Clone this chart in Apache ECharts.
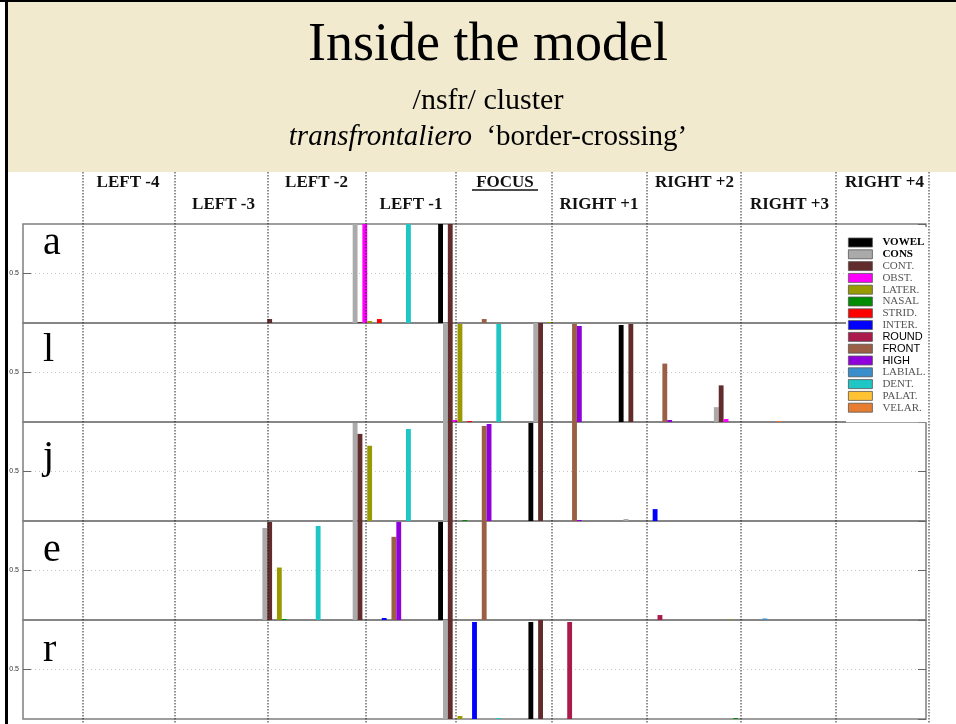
<!DOCTYPE html>
<html lang="en">
<head>
<meta charset="UTF-8">
<title>Inside the model</title>
<script src="https://cdn.jsdelivr.net/npm/echarts@6/dist/echarts.min.js"></script>
<style>
  html, body { margin: 0; padding: 0; background: #fff; }
  #chart { width: 956px; height: 724px; }
</style>
</head>
<body>
<div id="chart"></div>
<script>
// context positions on the x axis
var positions = ['LEFT -4', 'LEFT -3', 'LEFT -2', 'LEFT -1', 'FOCUS', 'RIGHT +1', 'RIGHT +2', 'RIGHT +3', 'RIGHT +4'];
var features = ['VOWEL', 'CONS', 'CONT.', 'OBST.', 'LATER.', 'NASAL', 'STRID.', 'INTER.', 'ROUND', 'FRONT', 'HIGH', 'LABIAL.', 'DENT.', 'PALAT.', 'VELAR.'];
var featureColors = ['#000000', '#aaaaaa', '#622c2c', '#ff00ff', '#999900', '#008c00', '#ff0000', '#0000ff',
                     '#aa1a4c', '#9a5f44', '#9000dc', '#3a8ecc', '#1ec6c6', '#ffc232', '#e67d30'];
var panelLetters = ['a', 'l', 'j', 'e', 'r'];

// one row per feature (same order as features), one column per position
var panelA = [
  [0, 0, 0, 0, 1.00, 0, 0, 0, 0],
  [0, 0, 0, 1.00, 0, 0, 0, 0, 0],
  [0, 0, 0.04, 0.01, 1.00, 0, 0, 0, 0],
  [0, 0, 0, 1.00, 0, 0, 0, 0, 0],
  [0, 0, 0, 0.02, 0, 0.01, 0, 0, 0],
  [0, 0, 0, 0, 0, 0, 0, 0, 0],
  [0, 0, 0, 0.04, 0, 0, 0, 0, 0],
  [0, 0, 0, 0, 0, 0, 0, 0, 0],
  [0, 0, 0, 0, 0, 0, 0, 0, 0],
  [0, 0, 0, 0, 0.04, 0, 0, 0, 0],
  [0, 0, 0, 0, 0, 0, 0, 0, 0],
  [0, 0, 0, 0, 0, 0, 0, 0, 0],
  [0, 0, 0, 1.00, 0, 0, 0, 0, 0],
  [0, 0, 0, 0, 0, 0, 0, 0, 0],
  [0, 0, 0, 0, 0, 0, 0, 0, 0]
];
var panelL = [
  [0, 0, 0, 0, 0, 0, 0.98, 0, 0],
  [0, 0, 0, 0, 1.00, 1.00, 0, 0.15, 0],
  [0, 0, 0, 0, 1.00, 1.00, 0.99, 0.37, 0],
  [0, 0, 0, 0, 0.02, 0, 0, 0.03, 0],
  [0, 0, 0, 0, 0.99, 0, 0, 0, 0],
  [0, 0, 0, 0, 0, 0, 0, 0, 0],
  [0, 0, 0, 0, 0.01, 0, 0, 0, 0],
  [0, 0, 0, 0, 0, 0, 0, 0, 0],
  [0, 0, 0, 0, 0, 0, 0, 0, 0],
  [0, 0, 0, 0, 0, 0.99, 0.59, 0, 0],
  [0, 0, 0, 0, 0, 0.97, 0.02, 0, 0],
  [0, 0, 0, 0, 0, 0, 0, 0, 0],
  [0, 0, 0, 0, 0.99, 0, 0, 0, 0],
  [0, 0, 0, 0, 0, 0, 0, 0, 0],
  [0, 0, 0, 0, 0, 0, 0, 0.01, 0]
];
var panelJ = [
  [0, 0, 0, 0, 0, 0.99, 0, 0, 0],
  [0, 0, 0, 0.99, 1.00, 0, 0.02, 0, 0],
  [0, 0, 0, 0.88, 1.00, 1.00, 0, 0, 0],
  [0, 0, 0, 0, 0, 0, 0, 0, 0],
  [0, 0, 0, 0.76, 0, 0, 0, 0, 0],
  [0, 0, 0, 0, 0.01, 0, 0, 0, 0],
  [0, 0, 0, 0, 0, 0, 0, 0, 0],
  [0, 0, 0, 0, 0, 0, 0.12, 0, 0],
  [0, 0, 0, 0, 0, 0, 0, 0, 0],
  [0, 0, 0, 0, 0.96, 1.00, 0, 0, 0],
  [0, 0, 0, 0, 0.98, 0.01, 0, 0, 0],
  [0, 0, 0, 0, 0, 0, 0, 0, 0],
  [0, 0, 0, 0.93, 0, 0, 0, 0, 0],
  [0, 0, 0, 0, 0, 0, 0, 0, 0],
  [0, 0, 0, 0, 0, 0, 0, 0, 0]
];
var panelE = [
  [0, 0, 0, 0, 0.99, 0, 0, 0, 0],
  [0, 0, 0.93, 1.00, 0, 0, 0, 0, 0],
  [0, 0, 0.99, 1.00, 1.00, 0, 0, 0, 0],
  [0, 0, 0, 0, 0, 0, 0, 0, 0],
  [0, 0, 0.53, 0, 0, 0, 0, 0.005, 0],
  [0, 0, 0.01, 0, 0, 0, 0, 0, 0],
  [0, 0, 0, 0, 0, 0, 0, 0, 0],
  [0, 0, 0, 0.02, 0, 0, 0, 0, 0],
  [0, 0, 0, 0, 0, 0, 0.05, 0, 0],
  [0, 0, 0, 0.84, 1.00, 0, 0, 0, 0],
  [0, 0, 0, 0.99, 0, 0, 0, 0, 0],
  [0, 0, 0, 0, 0, 0, 0, 0.015, 0],
  [0, 0, 0.95, 0, 0, 0, 0, 0, 0],
  [0, 0, 0, 0, 0, 0, 0, 0, 0],
  [0, 0, 0, 0, 0, 0, 0, 0, 0]
];
var panelR = [
  [0, 0, 0, 0, 0, 0.98, 0, 0, 0],
  [0, 0, 0, 0, 1.00, 0, 0, 0, 0],
  [0, 0, 0, 0, 1.00, 1.00, 0, 0, 0],
  [0, 0, 0, 0, 0, 0, 0, 0, 0],
  [0, 0, 0, 0, 0.03, 0, 0, 0, 0],
  [0, 0, 0, 0, 0, 0, 0, 0.01, 0],
  [0, 0, 0, 0, 0, 0, 0, 0, 0],
  [0, 0, 0, 0, 0.98, 0, 0, 0, 0],
  [0, 0, 0, 0, 0, 0.98, 0, 0, 0],
  [0, 0, 0, 0, 0, 0, 0, 0, 0],
  [0, 0, 0, 0, 0, 0, 0, 0, 0],
  [0, 0, 0, 0, 0, 0, 0, 0, 0],
  [0, 0, 0, 0, 0.01, 0, 0, 0, 0],
  [0, 0, 0, 0, 0, 0, 0, 0, 0],
  [0, 0, 0, 0, 0, 0, 0, 0, 0]
];
var panels = [panelA, panelL, panelJ, panelE, panelR];

var serif = '"Liberation Serif", "DejaVu Serif", serif';
var panelTop = 224, panelH = 99;

var grids = [], xAxes = [], yAxes = [], series = [];
panels.forEach(function (rows, p) {
  grids.push({
    left: 23, right: 30, top: panelTop + p * panelH, height: panelH,
    show: true, borderColor: '#7f7f7f', borderWidth: 1.5, backgroundColor: 'transparent'
  });
  // empty slot on each side so the groups sit at 1..9 of a 0..10 axis
  xAxes.push({
    type: 'category', gridIndex: p, boundaryGap: false,
    data: [''].concat(positions, ['']),
    axisLine: { show: false }, axisTick: { show: false }, axisLabel: { show: false }
  });
  yAxes.push({
    type: 'value', gridIndex: p, min: 0, max: 1, interval: 0.5, position: 'left',
    axisLine: { show: false },
    axisTick: { show: true, inside: true, length: 8, lineStyle: { color: '#666' } },
    axisLabel: { fontSize: 7, color: '#333', margin: 4, showMinLabel: false, showMaxLabel: false,
                 fontFamily: 'Liberation Sans' },
    splitLine: { show: true, showMinLine: false, showMaxLine: false,
                 lineStyle: { type: [1, 3], color: '#c8c8c8', width: 1 } }
  });
  yAxes.push({
    type: 'value', gridIndex: p, min: 0, max: 1, interval: 0.5, position: 'right',
    axisLine: { show: false },
    axisTick: { show: true, inside: true, length: 8, lineStyle: { color: '#666' } },
    axisLabel: { show: false }, splitLine: { show: false }
  });
  rows.forEach(function (vals, f) {
    series.push({
      name: features[f], type: 'bar',
      xAxisIndex: p, yAxisIndex: p * 2,
      barWidth: '5.37%', barGap: '0%',
      itemStyle: { color: featureColors[f] },
      silent: true, animation: false,
      data: [null].concat(vals, [null])
    });
  });
});

var legendStyle = ['b', 'b', 'r', 'r', 'r', 'r', 'r', 'r', 's', 's', 's', 'r', 'r', 'r', 'r'];

var graphic = [
  { type: 'rect', shape: { x: 8, y: 2, width: 948, height: 170 }, style: { fill: '#f1eacf' } },
  { type: 'rect', shape: { x: 0, y: 0, width: 956, height: 2 }, style: { fill: '#000' } },
  { type: 'rect', shape: { x: 5, y: 0, width: 3, height: 724 }, style: { fill: '#000' } },
  { type: 'text', x: 488, y: 46, style: { text: 'Inside the model', font: '54px ' + serif, fill: '#000', align: 'center', verticalAlign: 'middle' } },
  { type: 'text', x: 488, y: 101, style: { text: '/nsfr/ cluster', font: '30px ' + serif, fill: '#000', align: 'center', verticalAlign: 'middle' } },
  { type: 'text', x: 488, y: 137, style: {
      text: '{i|transfrontaliero}  ‘border-crossing’', font: '29px ' + serif, fill: '#000',
      align: 'center', verticalAlign: 'middle',
      rich: { i: { fontStyle: 'italic', fontSize: 29, fontFamily: serif } } } }
];

// column headers, staggered in two rows
var labelX = [128, 223.5, 316.5, 411, 505, 599, 694.5, 789.5, 884.5];
positions.forEach(function (name, i) {
  graphic.push({ type: 'text', x: labelX[i], y: i % 2 === 0 ? 183 : 205, z: 50,
    style: { text: name, font: 'bold 17px ' + serif, fill: '#111', align: 'center', verticalAlign: 'middle' } });
});
graphic.push({ type: 'line', z: 50, shape: { x1: 472, y1: 190, x2: 538, y2: 190 }, style: { stroke: '#111', lineWidth: 1.3 } });

// dotted separators between the columns
[83, 175, 268, 366, 456, 552, 647, 741, 836, 929].forEach(function (x) {
  graphic.push({ type: 'line', z: 100, shape: { x1: x, y1: 172, x2: x, y2: 724 },
    style: { stroke: '#222', lineWidth: 1, lineDash: [1.5, 1.5] } });
});

// segment letter for each panel
var letterY = [243, 350, 457, 550, 650];
panelLetters.forEach(function (ch, i) {
  graphic.push({ type: 'text', x: 43, y: letterY[i], z: 50,
    style: { text: ch, font: '40px ' + serif, fill: '#000', align: 'left', verticalAlign: 'middle' } });
});

var chart = echarts.init(document.getElementById('chart'));
chart.setOption({
  animation: false,
  backgroundColor: '#fff',
  grid: grids,
  xAxis: xAxes,
  yAxis: yAxes,
  series: series,
  legend: {
    data: features, orient: 'vertical', left: 846, top: 227,
    padding: [10, 6, 9, 2], backgroundColor: '#fff', z: 20,
    itemWidth: 24, itemHeight: 9, itemGap: 0.8, icon: 'rect',
    itemStyle: { borderColor: '#555', borderWidth: 0.8 },
    selectedMode: false,
    textStyle: {
      fontFamily: serif, fontSize: 11, color: '#555', lineHeight: 10, padding: [0, 0, 0, 5],
      rich: {
        b: { fontFamily: serif, fontSize: 11, fontWeight: 'bold', color: '#000', lineHeight: 10 },
        r: { fontFamily: serif, fontSize: 11, color: '#555', lineHeight: 10 },
        s: { fontFamily: 'Liberation Sans', fontSize: 11, color: '#000', lineHeight: 10 }
      }
    },
    formatter: function (name) {
      return '{' + legendStyle[features.indexOf(name)] + '|' + name + '}';
    }
  },
  graphic: graphic
});
</script>
</body>
</html>
